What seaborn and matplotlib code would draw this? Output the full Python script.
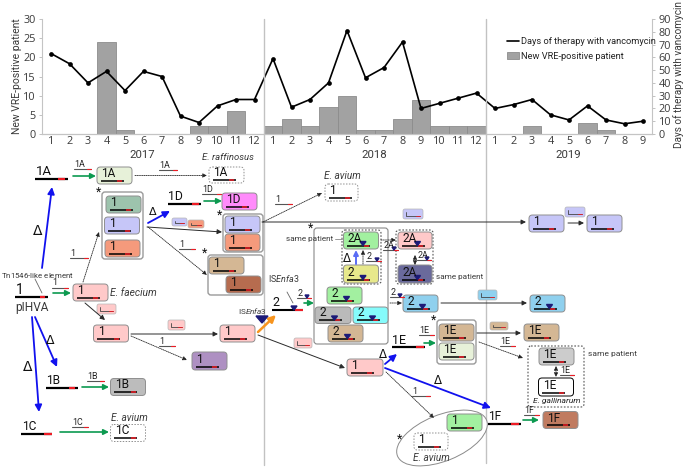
import numpy as np
import pandas as pd
import seaborn as sns
import matplotlib
matplotlib.use('Agg')
import matplotlib.pyplot as plt
from matplotlib.lines import Line2D
from matplotlib.patches import FancyBboxPatch, Ellipse, Polygon

# chart values
months = list(range(1, 13)) + list(range(1, 13)) + list(range(1, 10))
new_vre = [0, 0, 0, 24, 1, 0, 0, 0, 2, 2, 6, 0,
           2, 4, 2, 7, 10, 1, 1, 4, 9, 2, 2, 2,
           0, 0, 2, 0, 0, 3, 1, 0, 0]
days_vanco = [63, 55, 40, 49, 34, 49, 45, 14, 9, 22, 27, 27,
              59, 21, 27, 40, 81, 44, 52, 72, 20, 24, 28, 32,
              20, 23, 27, 15, 11, 22, 11, 8, 10]
years = ['2017', '2018', '2019']
year_pos = [142, 374, 568]

sns.set_theme(style='white')
plt.rcParams['font.family'] = ['Roboto', 'DejaVu Sans']
plt.rcParams['mathtext.fontset'] = 'custom'
plt.rcParams['mathtext.it'] = 'Roboto:italic'
plt.rcParams['mathtext.rm'] = 'Roboto'

W, H = 685, 470
GREY = '#3a3a3a'
fig = plt.figure(figsize=(W / 100, H / 100), dpi=100)

df = pd.DataFrame({'idx': np.arange(len(months)), 'new': new_vre, 'days': days_vanco})

ax = fig.add_axes([41.75 / W, 1 - 134 / H, 610.5 / W, 115 / H])
sns.barplot(data=df, x='idx', y='new', ax=ax, color='#a2a2a2', saturation=1, width=1,
            edgecolor='#8c8c8c', linewidth=0.6, label='New VRE-positive patient', legend=False)
ax.set_xlim(-0.5, len(months) - 0.5)
ax.set_ylim(0, 30)
ax.set_yticks(range(0, 31, 5))
ax.set_xticks(df['idx'])
ax.set_xticklabels(months)
ax.set_xlabel('')
ax.set_ylabel('New VRE-positive patient', fontsize=7.5, color=GREY)
ax.yaxis.set_label_coords(-0.032, 0.5)
ax.tick_params(axis='y', labelsize=7.8, labelcolor=GREY, length=2.5, width=0.6, color='#b8b8b8', pad=2,
               labelfontfamily='Open Sans')
ax.tick_params(axis='x', labelsize=7.8, labelcolor=GREY, length=0, pad=1.5, labelfontfamily='Open Sans')

ax2 = ax.twinx()
sns.lineplot(data=df, x='idx', y='days', ax=ax2, color='black', lw=1.2, marker='o', markersize=3.4,
             markeredgewidth=0, legend=False)
ax2.set_ylim(0, 90)
ax2.set_yticks(range(0, 91, 10))
ax2.set_ylabel('Days of therapy with vancomycin', fontsize=7.2, color=GREY)
ax2.yaxis.set_label_coords(1.034, 0.52)
ax2.tick_params(axis='y', labelsize=7.8, labelcolor=GREY, length=2.5, width=0.6, color='#b8b8b8', pad=2,
                labelfontfamily='Open Sans')

for a in (ax, ax2):
    a.set_facecolor('none')
    a.spines['top'].set_visible(False)
    for s in ('left', 'right', 'bottom'):
        a.spines[s].set_color('#c4c4c4')
        a.spines[s].set_linewidth(0.8)
ax.spines['right'].set_visible(False)
ax2.spines['left'].set_visible(False)

h2, l2 = ax.get_legend_handles_labels()
h1 = [Line2D([], [], color='black', lw=1.2)]
ax2.legend(h1 + h2, ['Days of therapy with vancomycin'] + l2, loc='upper left', bbox_to_anchor=(0.762, 0.84),
           frameon=False, fontsize=6.7, labelcolor='#222222', handlelength=1.25, handletextpad=0.3,
           labelspacing=0.55, borderpad=0, borderaxespad=0)

# diagram layer in pixel coordinates
d = fig.add_axes([0, 0, 1, 1], facecolor='none')
d.set_xlim(0, W)
d.set_ylim(H, 0)
d.axis('off')

RED = '#ee1c25'
NAVY = '#1c1a78'


def txt(x, y, s, size=7.5, style='normal', color=GREY, ha='left'):
    d.text(x, y, s, fontsize=size, style=style, color=color, ha=ha, va='center')


def gene(x0, x1, y, label=None, size=9, tri=False, lw=1.6, red=None):
    # insert line with red resistance part at the end
    rx0, rx1 = red if red else (x1 - 7, x1 - 1.5)
    d.plot([x0, x1], [y, y], color='black', lw=lw, solid_capstyle='butt', zorder=5)
    d.plot([rx0, rx1], [y, y], color=RED, lw=lw, solid_capstyle='butt', zorder=6)
    if tri:
        m = rx0 - 1
        d.add_patch(Polygon([[m - 3, y - 4], [m + 3, y - 4], [m, y]], color=NAVY, zorder=7))
    if label:
        d.text(x0 + 0.5, y - 0.5, label, fontsize=size, color='#111111', ha='left', va='bottom', zorder=7)


def node(x, y, s, color, w=35, h=17, tri=None, edge='#8f8f8f', dash=False):
    if tri is None:
        tri = s.startswith('2')
    d.add_patch(FancyBboxPatch((x + 2, y + 2), w - 4, h - 4, boxstyle='round,pad=2,rounding_size=3.5',
                               fc=color, ec=edge, lw=0.7, ls=(0, (1.5, 1.5)) if dash else '-', zorder=3))
    gene(x + 4, x + 27, y + h - 3.5, s, size=8.6, tri=tri, lw=1.1, red=(x + 20.5, x + 25.5))


def group(x0, y0, x1, y1, dash=False, edge='#9a9a9a', lw=1.0):
    d.add_patch(FancyBboxPatch((x0 + 2, y0 + 2), x1 - x0 - 4, y1 - y0 - 4,
                               boxstyle='round,pad=2,rounding_size=3', fc='white',
                               ec='#555555' if dash else edge, lw=0.8 if dash else lw,
                               ls=(0, (1.5, 1.5)) if dash else '-', zorder=1))


def arrow(x0, y0, x1, y1, color='#2a2a2a', lw=0.7, ls='-', ms=7, both=False):
    d.annotate('', xy=(x1, y1), xytext=(x0, y0), zorder=4,
               arrowprops=dict(arrowstyle='<|-|>' if both else '-|>', color=color, lw=lw, ls=ls,
                               mutation_scale=ms, shrinkA=0, shrinkB=0))


def blue(x0, y0, x1, y1):
    arrow(x0, y0, x1, y1, color='#1111ee', lw=1.3, ms=10)


def green(x0, x1, y):
    arrow(x0, y, x1, y, color='#0c9a50', lw=1.2, ms=8)


def dotted(x0, y0, x1, y1, both=False):
    arrow(x0, y0, x1, y1, color='#222222', lw=0.6, ls=(0, (1, 1.2)), ms=6, both=both)


def small(x0, x1, y, s, tri=False):
    # short label sitting over an arrow
    d.plot([x0, x1], [y, y], color='#555555', lw=0.8, zorder=5)
    d.plot([x1 - 4, x1], [y, y], color=RED, lw=0.8, zorder=6)
    if tri:
        d.add_patch(Polygon([[x1 - 6, y - 3], [x1 - 2, y - 3], [x1 - 4, y]], color=NAVY, zorder=6))
    d.text(x0 + 0.5, y - 0.3, s, fontsize=6.4, color='#222222', ha='left', va='bottom', zorder=6)


def chip(x, y, w, h, color):
    d.add_patch(FancyBboxPatch((x + 1.5, y + 1.5), w - 3, h - 3, boxstyle='round,pad=1.5,rounding_size=2',
                               fc=color, ec='#b5b5b5', lw=0.5, zorder=3))
    d.plot([x + 3, x + 3, x + w - 3], [y + 2.5, y + h - 3, y + h - 3], color='#444444', lw=0.6, zorder=5)
    d.plot([x + w - 7, x + w - 3], [y + h - 3, y + h - 3], color=RED, lw=0.6, zorder=6)


def star(x, y):
    d.text(x, y, '*', fontsize=9, color='#111111', ha='center', va='center', zorder=7)


def delta(x, y, size=9):
    d.text(x, y, '\u0394', fontsize=size, color='#111111', ha='center', va='center', zorder=7,
           family='DejaVu Sans')


PINK = '#ffc9c9'
LAV = '#c6c6f8'
SALMON = '#f59a7c'
TAN = '#d4b794'
BROWN = '#b66c4f'
LGREEN = '#e7f1d9'
GREEN = '#a2f0a0'
BLUE = '#8fd0ee'

# year labels and year dividers
for yr, xp in zip(years, year_pos):
    txt(xp, 155, yr, size=8.2, ha='center')
for xp, y1 in [(264, 465), (486, 463)]:
    d.plot([xp, xp], [19, y1], color='#c2c2c2', lw=1.0, zorder=0)

# left column
gene(15, 48, 297, '1', size=10, red=(40, 45))
txt(32, 308, 'pIHVA', size=8.6, ha='center')
txt(1, 275, 'Tn$\\mathit{1546}$-like element', size=5.7)
d.plot([35, 42], [279, 293], color='#666666', lw=0.6)
blue(42, 268, 52, 187)
delta(38, 231, 10)
blue(35, 317, 57, 367)
delta(50, 340)
blue(32, 317, 39, 412)
delta(28, 367, 10)

gene(35, 68, 178.7, '1A', size=9.5, red=(58, 65))
small(74, 91, 169, '1A')
green(73, 96, 176)
node(97, 167, '1A', LGREEN)
dotted(135, 175.5, 207, 175.5)
small(159, 177, 170, '1A')
node(209, 167, '1A', 'white', h=16, dash=True)
txt(202, 157, 'E. raffinosus', size=6.8, style='italic')

gene(46, 78, 387.5, '1B', size=8.6, red=(69, 75))
small(87, 104, 381, '1B')
green(82, 109, 387)
node(110.5, 378.5, '1B', '#bcbcbc')
gene(21.5, 52.5, 433.7, '1C', size=8.6, red=(44, 52))
small(72, 88, 427, '1C')
green(60, 109, 432)
node(110.5, 424.5, '1C', 'white', dash=True)
txt(111, 418, 'E. avium', size=7.2, style='italic')

# E. faecium branch
small(52, 68, 287.5, '1')
green(53, 71, 293)
node(73, 284, '1', PINK)
txt(110.5, 293, 'E. faecium', size=7.4, style='italic')
dotted(83, 282, 99, 232)
small(70, 88, 258, '1')
arrow(85, 303, 105, 320)
chip(97, 304, 19, 10, PINK)
node(93.5, 325, '1', PINK)
arrow(131, 334, 218, 334)
chip(168, 320, 17, 10, PINK)
dotted(131, 336, 187, 360)
small(159, 175, 346, '1')
node(192, 352, '1', '#ae90c2', h=18)
node(220, 325, '1', PINK)

# first starred group
group(102, 192, 143, 259)
star(99, 192)
node(106, 196, '1', '#9dc3ad')
node(104.5, 217, '1', LAV)
node(105, 240, '1', SALMON)
blue(148, 223, 170, 211)
delta(153, 212, 8)
gene(168, 201, 203.7, '1D', size=8.8, red=(192, 199))
small(202, 221, 194, '1D')
green(204, 222, 201)
node(222, 193, '1D', '#ff8bfb')
chip(172, 218, 15, 8, LAV)
chip(188, 220, 16, 8, SALMON)
arrow(147, 227, 222, 232)
dotted(148, 227, 207, 275)
small(179, 195, 249, '1')

group(223, 214, 263, 252)
star(220, 215)
node(225, 216, '1', LAV)
node(225, 234, '1', SALMON)
group(208, 255, 263, 295)
star(205, 253)
node(209, 257, '1', TAN)
node(226, 276, '1', BROWN)

# upper lines crossing the 2018 panel
txt(324, 176, 'E. avium', size=7.2, style='italic')
node(325, 184, '1', 'white', w=33, dash=True)
dotted(263, 222, 322, 193)
small(275, 292, 204, '1')
arrow(262, 222, 526, 222)
chip(403, 209, 20, 10, LAV)
node(529, 215, '1', LAV)
chip(565, 207, 20, 10, LAV)
arrow(568, 223, 584, 223)
node(587, 215, '1', LAV)

# same patient group
group(314, 228, 388, 344, edge='#8a8a8a', lw=0.8)
star(311, 228)
group(342, 230, 381, 284, dash=True)
node(343.5, 232, '2A', GREEN)
node(343.5, 265, '2', '#e7e88b', h=18)
delta(347, 258, 8.5)
arrow(356, 264, 356, 250, color='#5a6cf5', lw=1.4, ms=7)
dotted(363, 264, 363, 250)
small(366, 381, 261, '2', tri=True)
txt(286, 239.5, 'same patient', size=5.9)
d.plot([335, 342], [239, 239], color='#888888', lw=0.6)
node(327, 287, '2', GREEN)
node(315, 307, '2', '#bababa', w=36, h=16.5)
node(353, 307, '2', '#85fbfb', h=16.5)
node(328, 325, '2', TAN)

gene(272, 303, 310, '2', size=9, tri=True, lw=1.5, red=(295, 303))
txt(268, 279, 'IS$\\mathit{Enfa3}$', size=6.4)
d.plot([287, 293], [292, 303], color='#666666', lw=0.6)
txt(238, 311, 'IS$\\mathit{Enfa3}$', size=5.9)
d.add_patch(Polygon([[256, 316], [268, 316], [262, 323]], color=NAVY, zorder=7))
arrow(258, 332, 276, 315, color='#f7941e', lw=1.8, ms=10)
small(297, 311, 298, '2', tri=True)
green(304, 314, 303)

dotted(381, 240, 396, 240)
small(383, 398, 250, '2A', tri=True)
group(396, 230, 433, 284, dash=True)
node(398, 232, '2A', PINK, w=34)
node(398, 265, '2A', '#6a6a9c', w=34, h=18)
dotted(415, 255, 415, 265, both=True)
small(417, 431, 260, '2A', tri=True)
txt(436, 277, 'same patient', size=5.9)
dotted(390, 303, 402, 303)
small(390, 404, 297, '2', tri=True)
node(403, 295, '2', BLUE)
arrow(441, 303, 527, 303)
chip(478, 290, 19, 10, BLUE)
node(530, 295, '2', BLUE)

# lower branch
arrow(258, 335, 345, 368)
chip(294, 338, 18, 10, PINK)
node(347, 359, '1', PINK, w=36)
delta(383, 355, 8.5)
blue(385, 364, 397, 354)
gene(392, 425, 347, '1E', size=9, red=(416, 424))
small(419, 434, 335, '1E')
green(424, 436, 343)
group(437, 320, 476, 364)
star(434, 320)
node(439, 324, '1E', TAN)
node(439, 343, '1E', LGREEN)
arrow(477, 333, 521, 333)
chip(490, 322, 18, 8, TAN)
node(524, 324, '1E', TAN)
dotted(479, 342, 523, 358)
small(500, 515, 346, '1E')
group(528, 346, 584, 407, dash=True)
node(539, 348, '1E', '#cccccc')
node(538.5, 378, '1E', 'white', h=18, edge='black')
dotted(556, 366, 556, 377, both=True)
small(560, 574, 375, '1E')
txt(533, 401, 'E. gallinarum', size=6.1, style='italic', color='#222222')
txt(588, 354, 'same patient', size=6)

blue(385, 368, 491, 408)
delta(438, 380, 8.5)
gene(488, 521, 424, '1F', size=8.6, red=(511, 519))
small(524, 539, 415, '1F')
green(523, 539, 420)
node(543, 411.5, '1F', '#c07b60')
dotted(386, 372, 434, 418)
small(412, 430, 396, '1')

d.add_patch(Ellipse((442, 438), 96, 46, angle=-22, fc='white', ec='#8a8a8a', lw=0.7, zorder=1))
node(447, 414, '1', GREEN)
node(414, 433, '1', 'white', w=34, dash=True)
txt(413, 458, 'E. avium', size=7.2, style='italic')
star(400, 439)

fig.savefig('out.png', dpi=100)
